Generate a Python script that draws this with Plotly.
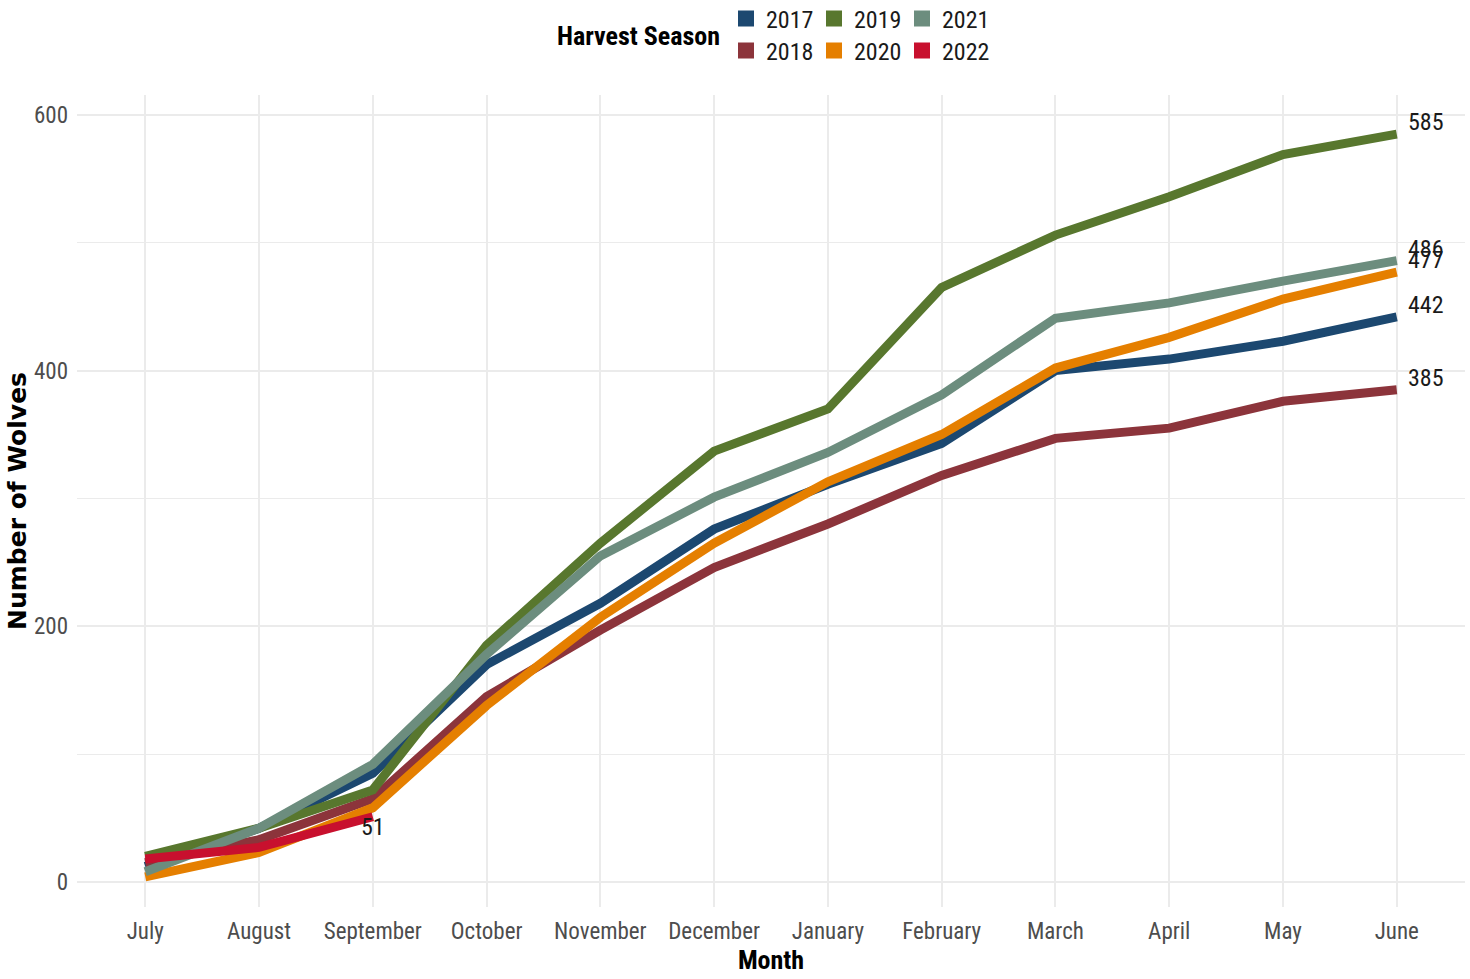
import plotly.graph_objects as go

months = ["July", "August", "September", "October", "November", "December",
          "January", "February", "March", "April", "May", "June"]
seasons = ["2017", "2018", "2019", "2020", "2021", "2022"]
v2017 = [12, 42, 85, 170, 218, 276, 311, 343, 400, 409, 423, 442]
v2018 = [15, 33, 65, 145, 197, 246, 280, 318, 347, 355, 376, 385]
v2019 = [20, 42, 72, 185, 265, 337, 370, 465, 506, 536, 569, 585]
v2020 = [4, 23, 58, 138, 207, 265, 313, 350, 402, 426, 456, 477]
v2021 = [8, 42, 92, 178, 255, 301, 336, 381, 441, 453, 470, 486]
v2022 = [18, 27, 51]
values = [v2017, v2018, v2019, v2020, v2021, v2022]
colors = ["#1C4870", "#8C343B", "#58772E", "#E57F00", "#6C8D7E", "#C8102E"]

NARROW = "Roboto Condensed, Liberation Sans, sans-serif"

fig = go.Figure()
for s, vals, c in zip(seasons, values, colors):
    fig.add_trace(go.Scatter(x=months[:len(vals)], y=vals, mode="lines", name=s,
                             line=dict(color=c, width=9), showlegend=False))

# legend keys (two rows, column-major order like the reference)
row1 = ["2017", "2019", "2021"]
for s, c in zip(seasons, colors):
    fig.add_trace(go.Scatter(x=[None], y=[None], mode="markers", name=s,
                             marker=dict(symbol="square", size=16, color=c),
                             legend="legend" if s in row1 else "legend2"))

# end labels
for s, vals in zip(seasons, values):
    last = len(vals) - 1
    if s == "2022":
        fig.add_annotation(x=months[last], y=vals[last], text=str(vals[last]),
                           showarrow=False, xanchor="center", yanchor="middle",
                           yshift=-10, font=dict(family=NARROW, size=24, color="#1a1a1a"))
    else:
        fig.add_annotation(x=months[last], y=vals[last], text=str(vals[last]),
                           showarrow=False, xanchor="left", yanchor="middle",
                           xshift=9, yshift=12, font=dict(family=NARROW, size=24, color="#1a1a1a"))

fig.add_annotation(text="<b>Harvest Season</b>", xref="paper", yref="paper",
                   x=(555 - 77) / 1388, y=1 + (95 - 36) / 812, xanchor="left", yanchor="middle",
                   showarrow=False, font=dict(family=NARROW, size=26, color="#000000"))

legend_common = dict(orientation="h", xref="container", yref="container",
                     xanchor="left", yanchor="middle", entrywidth=43,
                     font=dict(family=NARROW, size=24, color="#1a1a1a"),
                     bgcolor="rgba(0,0,0,0)", itemclick=False, tracegroupgap=0)

fig.update_layout(
    width=1470, height=979,
    margin=dict(l=77, r=5, t=95, b=72),
    paper_bgcolor="white", plot_bgcolor="white",
    legend=dict(**legend_common, x=726 / 1470, y=1 - 19 / 979),
    legend2=dict(**legend_common, x=726 / 1470, y=1 - 51 / 979),
    xaxis=dict(
        type="category", categoryorder="array", categoryarray=months,
        range=[-0.6, 11.6], showgrid=True, gridcolor="#EBEBEB", gridwidth=1.5,
        zeroline=False, showline=False, ticks="", ticklabelstandoff=8,
        tickfont=dict(family=NARROW, size=23, color="#4D4D4D"),
        title=dict(text="<b>Month</b>", standoff=6,
                   font=dict(family=NARROW, size=26, color="#000000")),
    ),
    yaxis=dict(
        range=[-19.6, 615.6], tickvals=[0, 200, 400, 600],
        showgrid=True, gridcolor="#EBEBEB", gridwidth=1.5,
        minor=dict(tickvals=[100, 300, 500], showgrid=True, gridcolor="#EBEBEB", gridwidth=1),
        zeroline=False, showline=False, ticks="", ticklabelstandoff=8,
        tickfont=dict(family=NARROW, size=23, color="#4D4D4D"),
        title=dict(text="<b>Number of Wolves</b>", standoff=0,
                   font=dict(family="DejaVu Sans", size=25, color="#000000")),
    ),
)

fig.write_html("out.html", config={"displayModeBar": False},
               post_script="document.body.style.margin='0';")
